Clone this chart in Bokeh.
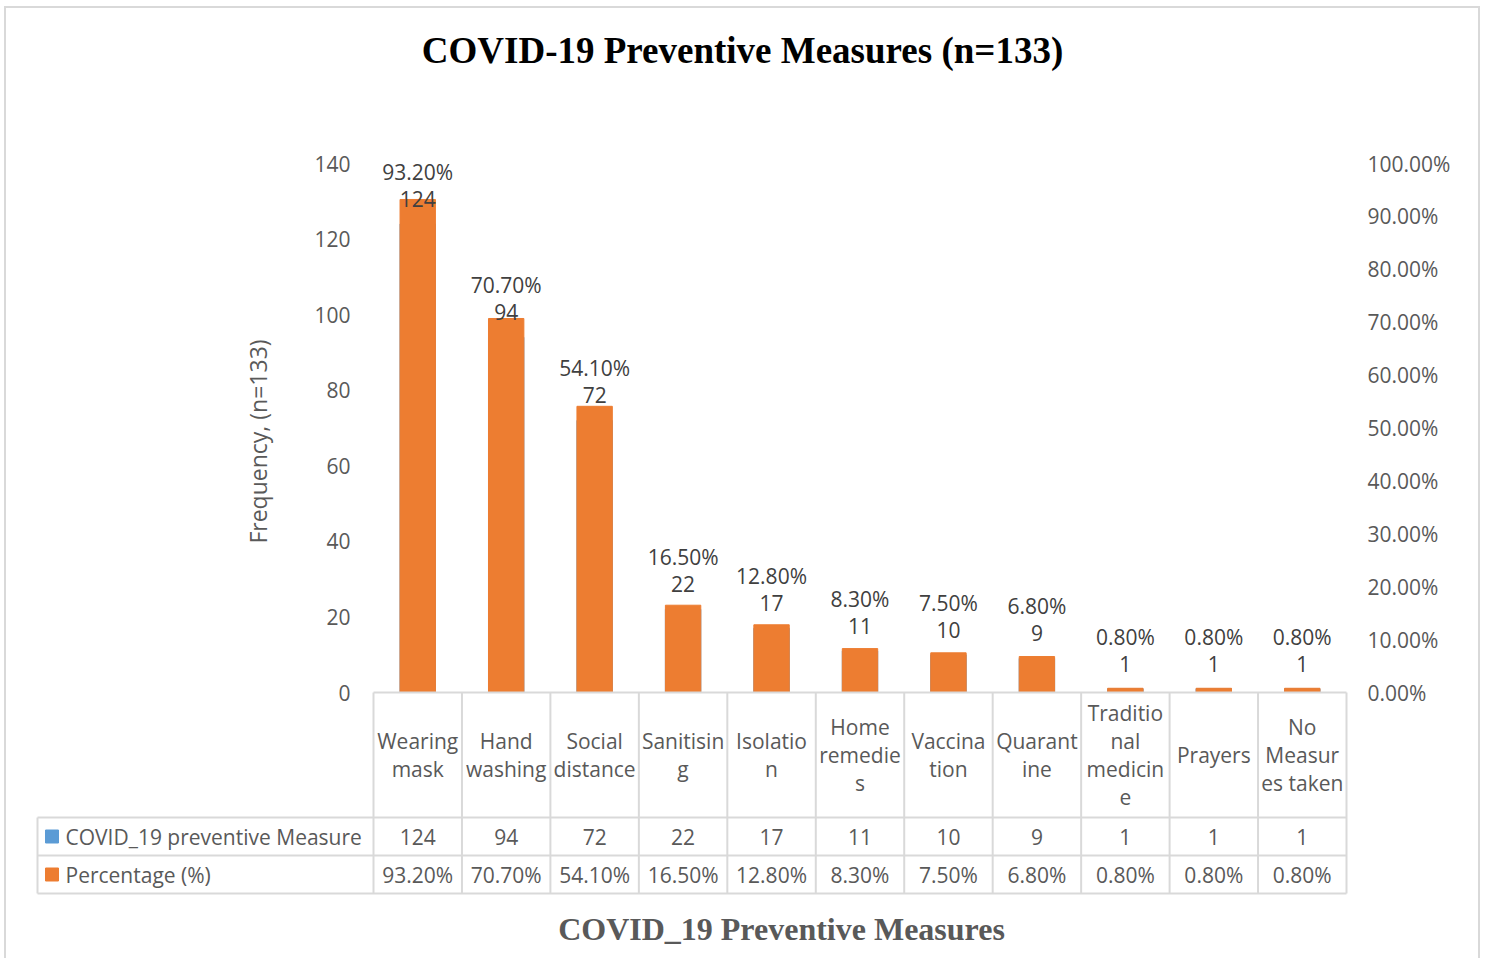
import math
from bokeh.plotting import figure
from bokeh.models import Range1d, LinearAxis, FixedTicker, NumeralTickFormatter
from bokeh.layouts import column
from bokeh.embed import file_html
from bokeh.resources import INLINE
from bokeh.core.properties import value

# ---------------- data ----------------
categories = ["Wearing mask", "Hand washing", "Social distance", "Sanitising",
              "Isolation", "Home remedies", "Vaccination", "Quarantine",
              "Traditional medicine", "Prayers", "No Measures taken"]
header_labels = ["Wearing\nmask", "Hand\nwashing", "Social\ndistance", "Sanitisin\ng",
                 "Isolatio\nn", "Home\nremedie\ns", "Vaccina\ntion", "Quarant\nine",
                 "Traditio\nnal\nmedicin\ne", "Prayers", "No\nMeasur\nes taken"]
counts = [124, 94, 72, 22, 17, 11, 10, 9, 1, 1, 1]
percentages = [93.2, 70.7, 54.1, 16.5, 12.8, 8.3, 7.5, 6.8, 0.8, 0.8, 0.8]
series_names = ["COVID_19 preventive Measure", "Percentage (%)"]
left_ticks = [0, 20, 40, 60, 80, 100, 120, 140]
right_ticks = [0.0, 0.1, 0.2, 0.3, 0.4, 0.5, 0.6, 0.7, 0.8, 0.9, 1.0]
title_text = "COVID-19 Preventive Measures (n=133)"
xtitle_text = "COVID_19 Preventive Measures"
ytitle_text = "Frequency, (n=133)"

# ---------------- styles / layout (page pixels) ----------------
FONT = "Open Sans"
SERIF = "Liberation Serif"
BLUE = "#5b9bd5"
ORANGE = "#ed7d31"
TXT = "#595959"
LBL = "#404040"
GRID = "#d9d9d9"
FS = "21px"

OX, OY = 6, 8                 # page position of the figure canvas
FIG_W, FIG_H = 1472, 950
CAT_L, CAT_R = 373, 1346      # category area
Y0_PAGE, YMAX_PAGE = 692, 163 # value axis 0 and 140
TABLE_ROWS = [692, 817, 855, 893]
TABLE_LEFT = 37
n = len(categories)
CELL = (CAT_R - CAT_L) / n
PX = (Y0_PAGE - YMAX_PAGE) / left_ticks[-1]


def ux(px):
    return (px - CAT_L) / CELL


def uy(py):
    return (Y0_PAGE - py) / PX


xs = [i + 0.5 for i in range(n)]
pct_frac = [v / 100 for v in percentages]

FR_L, FR_R = TABLE_LEFT - 4, CAT_R + 2
y_top, y_bot = uy(OY), uy(OY + FIG_H)

p = figure(width=FIG_W, height=FIG_H,
           x_range=Range1d(ux(FR_L), ux(FR_R)), y_range=Range1d(y_bot, y_top),
           output_backend="svg", toolbar_location=None,
           x_axis_location=None, y_axis_location=None,
           min_border_left=FR_L - OX, min_border_right=OX + FIG_W - FR_R,
           min_border_top=0, min_border_bottom=0)
p.extra_y_ranges = {"pct": Range1d(y_bot / left_ticks[-1], y_top / left_ticks[-1])}
p.outline_line_color = None
p.xgrid.visible = False
p.ygrid.visible = False

# secondary (percentage) axis on the right
rax = LinearAxis(y_range_name="pct", ticker=FixedTicker(ticks=right_ticks),
                 formatter=NumeralTickFormatter(format="0.00%"))
rax.axis_line_color = None
rax.major_tick_line_color = None
rax.minor_tick_line_color = None
rax.major_label_standoff = 13
rax.major_label_text_font = FONT
rax.major_label_text_font_size = FS
rax.major_label_text_color = TXT
p.add_layout(rax, "right")

# primary (frequency) axis labels, placed left of the category area
p.text(x=[ux(350)] * len(left_ticks), y=left_ticks, text=[str(v) for v in left_ticks],
       text_align="right", text_baseline="middle", text_font=value(FONT),
       text_font_size=FS, text_color=TXT)
p.text(x=[ux(257)], y=[uy(441)], text=[ytitle_text], angle=math.pi / 2,
       text_align="center", text_baseline="middle", text_font=value(FONT),
       text_font_size="23px", text_color=TXT)

# titles
p.text(x=[ux(742)], y=[uy(50)], text=[title_text], text_align="center",
       text_baseline="middle", text_font=value(SERIF), text_font_size="37px",
       text_font_style="bold", text_color="#000000")
p.text(x=[ux(781)], y=[uy(928)], text=[xtitle_text], text_align="center",
       text_baseline="middle", text_font=value(SERIF), text_font_size="32px",
       text_font_style="bold", text_color=TXT)

# bars: counts (primary axis) hidden behind percentages (secondary axis)
p.vbar(x=xs, top=counts, width=0.4, color=BLUE)
p.vbar(x=xs, top=pct_frac, width=0.4, color=ORANGE, y_range_name="pct")

# data labels
p.text(x=xs, y=counts, text=[str(c) for c in counts], text_align="center",
       text_baseline="middle", y_offset=-25, text_font=value(FONT),
       text_font_size=FS, text_color=LBL)
p.text(x=xs, y=counts, text=["%.2f%%" % v for v in percentages], text_align="center",
       text_baseline="middle", y_offset=-52, text_font=value(FONT),
       text_font_size=FS, text_color=LBL)

# ---------------- data table ----------------
ry = [uy(r) for r in TABLE_ROWS]
xl = ux(TABLE_LEFT)
vx = list(range(n + 1))
p.segment(x0=vx, y0=[ry[0]] * len(vx), x1=vx, y1=[ry[-1]] * len(vx),
          line_color=GRID, line_width=2)
p.segment(x0=[xl], y0=[ry[1]], x1=[xl], y1=[ry[-1]], line_color=GRID, line_width=2)
p.segment(x0=[0] + [xl] * 3, y0=ry, x1=[n] * 4, y1=ry, line_color=GRID, line_width=2)

row_c = [(ry[1] + ry[2]) / 2, (ry[2] + ry[3]) / 2]
p.text(x=xs, y=[(ry[0] + ry[1]) / 2] * n, text=header_labels, text_align="center",
       text_baseline="middle", text_line_height=1.0, text_font=value(FONT),
       text_font_size=FS, text_color=TXT)
p.text(x=xs, y=[row_c[0]] * n, text=[str(c) for c in counts], text_align="center",
       text_baseline="middle", text_font=value(FONT), text_font_size=FS, text_color=TXT)
p.text(x=xs, y=[row_c[1]] * n, text=["%.2f%%" % v for v in percentages], text_align="center",
       text_baseline="middle", text_font=value(FONT), text_font_size=FS, text_color=TXT)

# series names with legend keys
p.rect(x=[ux(51.5)] * 2, y=row_c, width=13, height=13, width_units="screen",
       height_units="screen", color=[BLUE, ORANGE])
p.text(x=[ux(65)] * 2, y=row_c, text=series_names, text_align="left",
       text_baseline="middle", text_font=value(FONT), text_font_size=FS, text_color=TXT)

layout = column(p, margin=(6, 0, 0, 4),
                styles={"border-top": "2px solid #d9d9d9",
                        "border-left": "2px solid #d9d9d9",
                        "border-right": "2px solid #d9d9d9"})
open("out.html", "w").write(file_html(layout, INLINE))
